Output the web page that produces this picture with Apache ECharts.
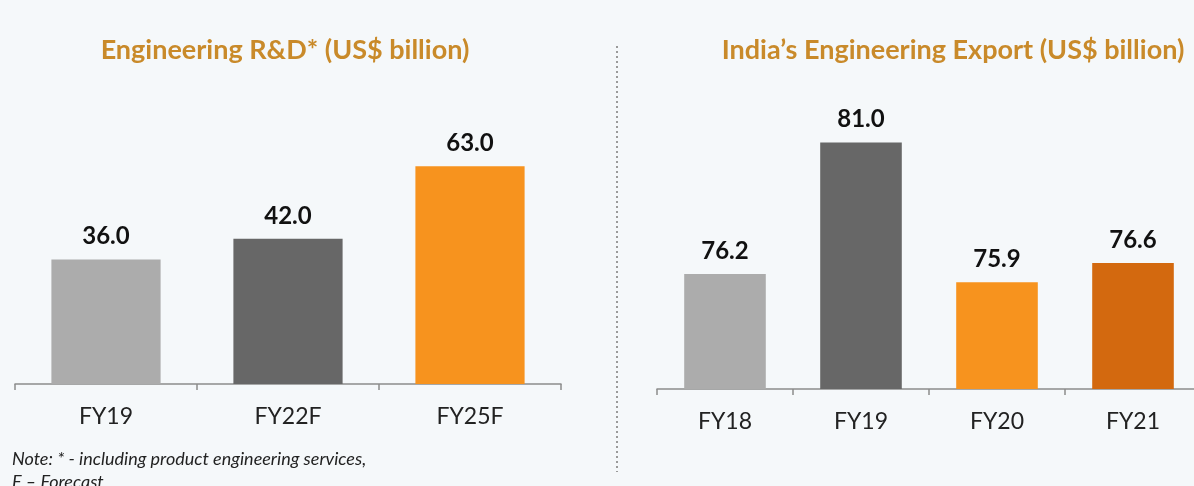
<!DOCTYPE html>
<html>
<head>
<meta charset="utf-8">
<script src="https://cdn.jsdelivr.net/npm/echarts@6/dist/echarts.min.js"></script>
<style>
  html, body { margin: 0; padding: 0; background: #f5f8fa; }
  #main { width: 1194px; height: 486px; }
</style>
</head>
<body>
<div id="main"></div>
<script>
// left chart data
var rdCategories = ['FY19', 'FY22F', 'FY25F'];
var rdValues = [36.0, 42.0, 63.0];
var rdColors = ['#acacac', '#676767', '#f7931e'];

// right chart data
var exportCategories = ['FY18', 'FY19', 'FY20', 'FY21'];
var exportValues = [76.2, 81.0, 75.9, 76.6];
var exportColors = ['#acacac', '#676767', '#f7931e', '#d3690f'];

var FONT = 'Lato';

var myChart = echarts.init(document.getElementById('main'));

function barData(values, colors) {
  return values.map(function (v, i) {
    return { value: v, itemStyle: { color: colors[i] } };
  });
}

var catAxisStyle = {
  type: 'category',
  axisLine: { lineStyle: { color: '#8c8c8c', width: 1.5 } },
  axisTick: { show: true, length: 6, lineStyle: { color: '#8c8c8c', width: 1.5 } },
  axisLabel: { color: '#222', fontSize: 23, fontFamily: FONT, margin: 21 }
};

var valueLabel = {
  show: true, position: 'top', distance: 11,
  formatter: function (p) { return p.value.toFixed(1); },
  color: '#111', fontSize: 24, fontWeight: 'bold', fontFamily: FONT
};

var option = {
  backgroundColor: '#f5f8fa',
  animation: false,
  title: [
    {
      text: 'Engineering R&D* (US$ billion)',
      left: 280, top: 32, textAlign: 'center',
      textStyle: { color: '#c98a2a', fontSize: 27, fontWeight: 'bold', fontFamily: FONT }
    },
    {
      text: 'India\u2019s Engineering Export (US$ billion)',
      left: 948, top: 32, textAlign: 'center',
      textStyle: { color: '#c98a2a', fontSize: 27, fontWeight: 'bold', fontFamily: FONT }
    }
  ],
  grid: [
    { left: 15, width: 546, top: 142, height: 242, outerBoundsMode: 'none' },
    { left: 657, width: 544, top: 115, height: 274, outerBoundsMode: 'none' }
  ],
  xAxis: [
    Object.assign({ gridIndex: 0, data: rdCategories }, catAxisStyle),
    Object.assign({ gridIndex: 1, data: exportCategories }, catAxisStyle)
  ],
  yAxis: [
    { gridIndex: 0, type: 'value', min: 0, max: 70, show: false },
    { gridIndex: 1, type: 'value', min: 72, max: 82, show: false }
  ],
  series: [
    {
      type: 'bar', xAxisIndex: 0, yAxisIndex: 0,
      barWidth: '60%',
      data: barData(rdValues, rdColors),
      label: valueLabel
    },
    {
      type: 'bar', xAxisIndex: 1, yAxisIndex: 1,
      barWidth: '60%',
      data: barData(exportValues, exportColors),
      label: valueLabel
    }
  ],
  graphic: [
    {
      type: 'line',
      shape: { x1: 617, y1: 46, x2: 617, y2: 472 },
      style: { stroke: '#9a9a9a', lineWidth: 2, lineDash: [2, 3] }
    },
    {
      type: 'text', left: 12, top: 448,
      style: {
        text: 'Note: * - including product engineering services,\nF \u2013 Forecast',
        fill: '#222', fontSize: 18, fontStyle: 'italic', fontFamily: FONT, lineHeight: 23
      }
    }
  ]
};

myChart.setOption(option);
</script>
</body>
</html>
